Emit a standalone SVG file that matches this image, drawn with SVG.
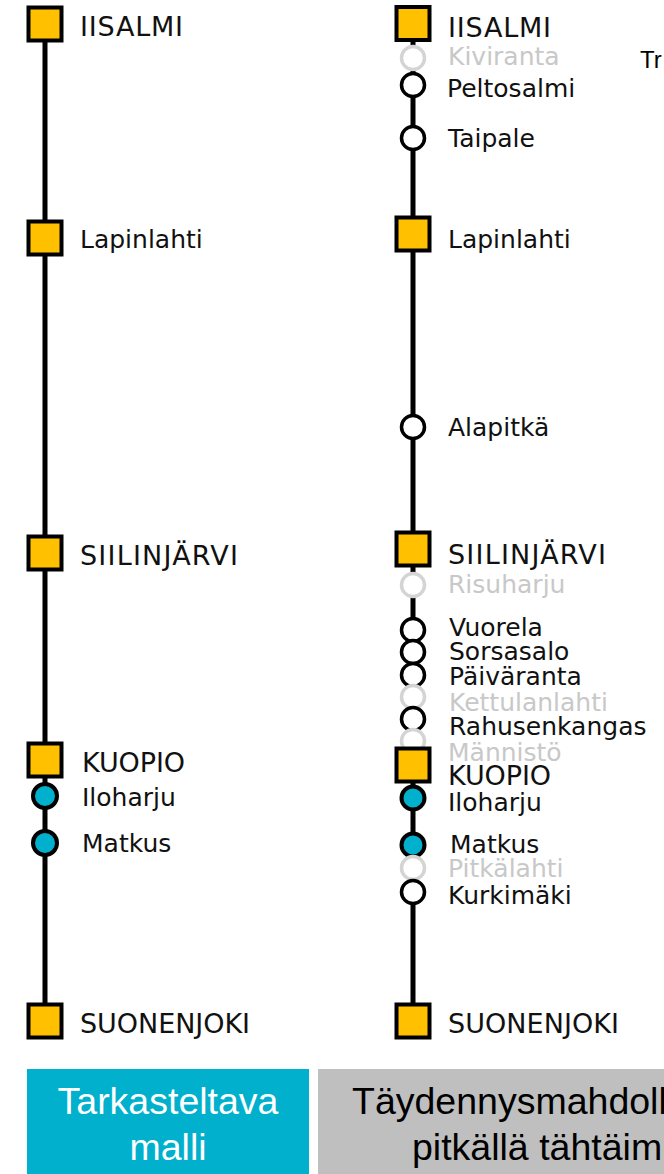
<svg xmlns="http://www.w3.org/2000/svg" width="664" height="1174" viewBox="0 0 664 1174">
<style>
.ln{stroke:#000;stroke-width:5;fill:none}
.sq{fill:#FFC000;stroke:#000;stroke-width:4}
.st{fill:#fff;stroke:#000;stroke-width:3.5}
.gs{fill:#fff;stroke:#D4D4D4;stroke-width:3.5}
.tl{fill:#00B0CC;stroke:#000;stroke-width:4}
.lb{font-family:"DejaVu Sans",Verdana,sans-serif;font-size:25px;fill:#111}
.cp{font-family:"DejaVu Sans",Verdana,sans-serif;font-size:27px;fill:#111}
.gl{font-family:"DejaVu Sans",Verdana,sans-serif;font-size:25px;fill:#C8C8C8}
.bx{font-family:"Liberation Sans",Arial,sans-serif;font-size:37.5px}
</style>
<rect width="664" height="1174" fill="#fff"/>
<g id="connectors">
<line class="ln" x1="45" y1="24" x2="45" y2="1021"/>
<line class="ln" x1="413" y1="24" x2="413" y2="1021"/>
</g>
<g id="l-iisalmi"><rect class="sq" x="28.5" y="7.5" width="33" height="33"/><text class="cp" x="80" y="36" textLength="103">IISALMI</text></g>
<g id="l-lapinlahti"><rect class="sq" x="28.5" y="221.5" width="33" height="33"/><text class="lb" x="80" y="248">Lapinlahti</text></g>
<g id="l-siilinjarvi"><rect class="sq" x="28.5" y="536.5" width="33" height="33"/><text class="cp" x="80" y="565" textLength="158">SIILINJÄRVI</text></g>
<g id="l-kuopio"><rect class="sq" x="28.5" y="743.5" width="33" height="33"/><text class="cp" x="82" y="772" textLength="103">KUOPIO</text></g>
<g id="l-iloharju"><circle class="tl" cx="45" cy="796" r="12"/><text class="lb" x="82" y="806">Iloharju</text></g>
<g id="l-matkus"><circle class="tl" cx="45" cy="843" r="12"/><text class="lb" x="82" y="852">Matkus</text></g>
<g id="l-suonenjoki"><rect class="sq" x="28.5" y="1004.5" width="33" height="33"/><text class="cp" x="80" y="1033" textLength="170">SUONENJOKI</text></g>

<g id="r-iisalmi"><rect class="sq" x="396.5" y="7" width="33" height="33"/><text class="cp" x="448" y="37" textLength="103">IISALMI</text></g>
<g id="r-kiviranta"><circle class="gs" cx="413" cy="58" r="11.5"/><text class="gl" x="448" y="65">Kiviranta</text></g>
<g id="r-peltosalmi"><circle class="st" cx="413" cy="85" r="11.5"/><text class="lb" x="447" y="97">Peltosalmi</text></g>
<g id="r-taipale"><circle class="st" cx="413" cy="138" r="11.5"/><text class="lb" x="448" y="147">Taipale</text></g>
<g id="r-lapinlahti"><rect class="sq" x="396.5" y="217.5" width="33" height="33"/><text class="lb" x="448" y="248">Lapinlahti</text></g>
<g id="r-alapitka"><circle class="st" cx="413" cy="427" r="11.5"/><text class="lb" x="448" y="436">Alapitkä</text></g>
<g id="r-siilinjarvi"><rect class="sq" x="396.5" y="532.5" width="33" height="33"/><text class="cp" x="448" y="564" textLength="158">SIILINJÄRVI</text></g>
<g id="r-risuharju"><circle class="gs" cx="413" cy="585" r="11.5"/><text class="gl" x="448" y="593">Risuharju</text></g>
<g id="r-vuorela"><circle class="st" cx="413" cy="630" r="11.5"/><text class="lb" x="449" y="636">Vuorela</text></g>
<g id="r-sorsasalo"><circle class="st" cx="413" cy="652" r="11.5"/><text class="lb" x="449" y="660">Sorsasalo</text></g>
<g id="r-paivaranta"><circle class="st" cx="413" cy="675" r="11.5"/><text class="lb" x="449" y="685">Päiväranta</text></g>
<g id="r-kettulanlahti"><circle class="gs" cx="413" cy="697" r="11.5"/><text class="gl" x="449" y="711">Kettulanlahti</text></g>
<g id="r-rahusenkangas"><circle class="st" cx="413" cy="719" r="11.5"/><text class="lb" x="449" y="735">Rahusenkangas</text></g>
<g id="r-mannisto"><circle class="gs" cx="413" cy="741" r="11.5"/><text class="gl" x="448" y="761">Männistö</text></g>
<g id="r-kuopio"><rect class="sq" x="396.5" y="748.5" width="33" height="33"/><text class="cp" x="448" y="785" textLength="103">KUOPIO</text></g>
<g id="r-iloharju"><circle class="tl" cx="413" cy="798" r="11.5"/><text class="lb" x="448" y="811">Iloharju</text></g>
<g id="r-matkus"><circle class="tl" cx="413" cy="845" r="11.5"/><text class="lb" x="450" y="853">Matkus</text></g>
<g id="r-pitkalahti"><circle class="gs" cx="413" cy="868" r="11.5"/><text class="gl" x="448" y="877">Pitkälahti</text></g>
<g id="r-kurkimaki"><circle class="st" cx="413" cy="892" r="11.5"/><text class="lb" x="448" y="904">Kurkimäki</text></g>
<g id="r-suonenjoki"><rect class="sq" x="396.5" y="1004.5" width="33" height="33"/><text class="cp" x="448" y="1033" textLength="171">SUONENJOKI</text></g>

<g id="box-tarkasteltava"><rect x="27" y="1069" width="282" height="105" fill="#00B0CC"/><text class="bx" fill="#fff" text-anchor="middle"><tspan x="168" y="1114">Tarkasteltava</tspan><tspan x="168" y="1160">malli</tspan></text></g>
<g id="box-taydennys"><rect x="318" y="1069" width="346" height="105" fill="#BFBFBF"/><text class="bx" fill="#000"><tspan x="352" y="1114">Täydennysmahdoll</tspan><tspan x="412" y="1160">pitkällä tähtäim</tspan></text></g>
<g id="tr-label"><text x="640" y="68" font-family="Liberation Sans, Arial, sans-serif" font-size="24" fill="#000">Tr</text></g>
</svg>
